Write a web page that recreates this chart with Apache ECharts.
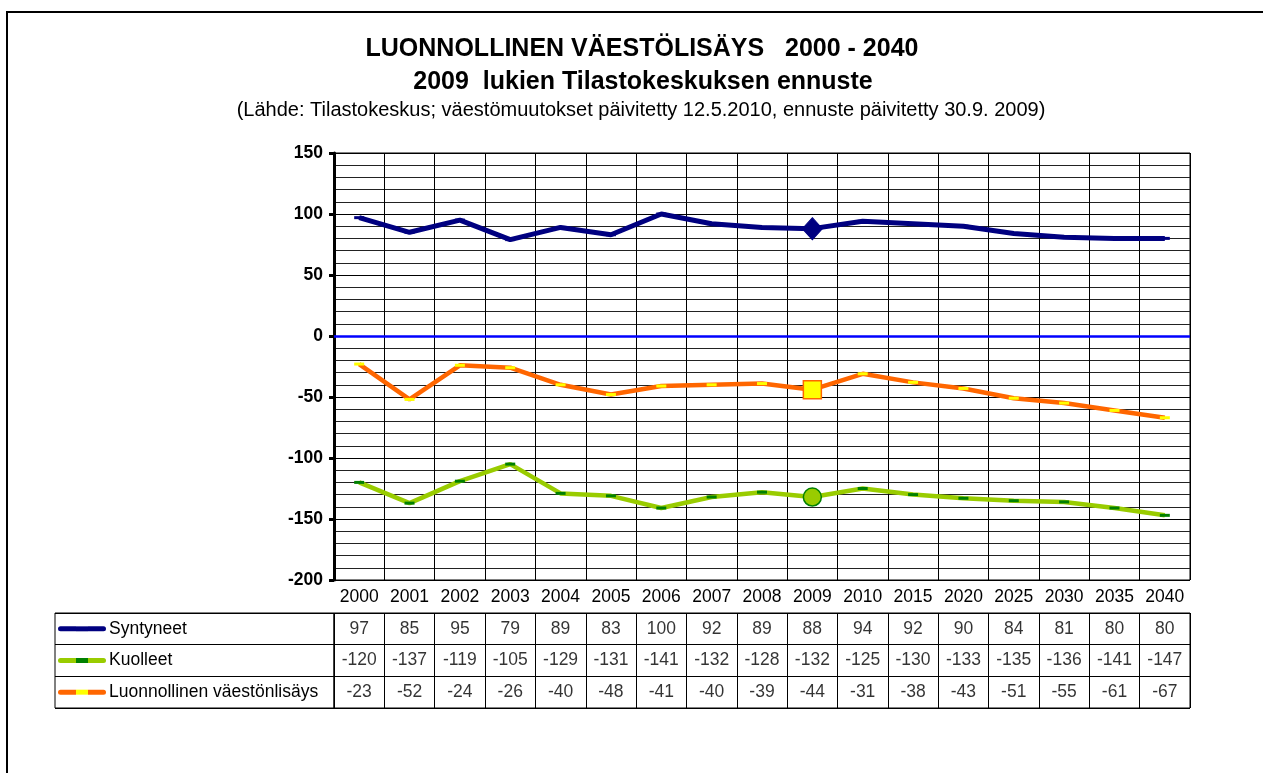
<!DOCTYPE html>
<html>
<head>
<meta charset="utf-8">
<title>Luonnollinen väestölisäys 2000 - 2040</title>
<script src="https://cdn.jsdelivr.net/npm/echarts@6/dist/echarts.min.js"></script>
<style>
  html, body { margin: 0; padding: 0; background: #fff; }
  #main { width: 1263px; height: 773px; }
</style>
</head>
<body>
<div id="main"></div>
<script>
// vuodet ja sarjat
var years = ['2000', '2001', '2002', '2003', '2004', '2005', '2006', '2007', '2008',
             '2009', '2010', '2015', '2020', '2025', '2030', '2035', '2040'];
var syntyneet = [97, 85, 95, 79, 89, 83, 100, 92, 89, 88, 94, 92, 90, 84, 81, 80, 80];
var kuolleet = [-120, -137, -119, -105, -129, -131, -141, -132, -128, -132, -125, -130, -133, -135, -136, -141, -147];
var lisays = [-23, -52, -24, -26, -40, -48, -41, -40, -39, -44, -31, -38, -43, -51, -55, -61, -67];
var names = ['Syntyneet', 'Kuolleet', 'Luonnollinen väestönlisäys'];
var yTicks = [-200, -150, -100, -50, 0, 50, 100, 150];

var FONT = '"Liberation Sans", Arial, sans-serif';
var ennusteVuosi = years.indexOf('2009');

// värit: viiva, merkki
var lineColors = ['#000080', '#99CC00', '#FF6600'];
var dashColors = ['#000080', '#008000', '#FFFF00'];

function pisteet(values, special) {
    return values.map(function (v, i) {
        if (i === ennusteVuosi) {
            return { value: v, symbol: special.symbol, symbolSize: special.size, itemStyle: special.style };
        }
        return v;
    });
}

// taulukon solut
var cells = [];
[syntyneet, kuolleet, lisays].forEach(function (arr, r) {
    arr.forEach(function (v, i) {
        cells.push([years[i], names[r], v]);
    });
});

// selitteen viivat rich-tekstinä
var rich = { n: { fontFamily: FONT, fontSize: 17.5, color: '#000', padding: [0, 0, 0, 3], verticalAlign: 'middle' } };
lineColors.forEach(function (c, k) {
    rich['l' + k] = { width: 18, height: 5, lineHeight: 5, backgroundColor: c, borderRadius: [3, 0, 0, 3], verticalAlign: 'middle', fontSize: 1 };
    rich['m' + k] = { width: 12, height: 5, lineHeight: 5, backgroundColor: k === 0 ? c : dashColors[k], verticalAlign: 'middle', fontSize: 1 };
    rich['r' + k] = { width: 18, height: 5, lineHeight: 5, backgroundColor: c, borderRadius: [0, 3, 3, 0], verticalAlign: 'middle', fontSize: 1 };
});

var myChart = echarts.init(document.getElementById('main'));
myChart.setOption({
    backgroundColor: '#fff',
    animation: false,
    title: [
        { text: 'LUONNOLLINEN VÄESTÖLISÄYS   2000 - 2040', left: 642, textAlign: 'center', top: 37, padding: 0,
          textStyle: { fontFamily: FONT, fontSize: 25, fontWeight: 'bold', color: '#000' } },
        { text: '2009  lukien Tilastokeskuksen ennuste', left: 643, textAlign: 'center', top: 70, padding: 0,
          textStyle: { fontFamily: FONT, fontSize: 25, fontWeight: 'bold', color: '#000' } },
        { text: '(Lähde: Tilastokeskus; väestömuutokset päivitetty 12.5.2010, ennuste päivitetty 30.9. 2009)', left: 641, textAlign: 'center', top: 100, padding: 0,
          textStyle: { fontFamily: FONT, fontSize: 20, fontWeight: 'normal', color: '#000' } }
    ],
    graphic: [
        { type: 'rect', shape: { x: 7, y: 12, width: 1300, height: 800 }, style: { fill: 'none', stroke: '#000', lineWidth: 2 }, silent: true, z: -1 }
    ],
    grid: [
        { left: 334, top: 153, width: 856, height: 427, show: true, borderColor: '#000', borderWidth: 1 },
        { left: 55, top: 613, width: 279, height: 95, show: true, borderColor: '#000', borderWidth: 1 },
        { left: 334, top: 613, width: 856, height: 95, show: true, borderColor: '#000', borderWidth: 1 }
    ],
    xAxis: [
        {
            gridIndex: 0, type: 'category', data: years, boundaryGap: true,
            axisLine: { show: true, lineStyle: { color: '#000', width: 1 } },
            axisTick: { show: true, interval: 0, length: 33, lineStyle: { color: '#000', width: 1 } },
            axisLabel: { interval: 0, margin: 8, fontFamily: FONT, fontSize: 17.5, color: '#000' },
            splitLine: { show: true, interval: 0, lineStyle: { color: '#000', width: 1 } }
        },
        { gridIndex: 1, type: 'value', show: false },
        {
            gridIndex: 2, type: 'category', data: years, boundaryGap: true,
            axisLine: { show: false }, axisTick: { show: false }, axisLabel: { show: false },
            splitLine: { show: true, interval: 0, lineStyle: { color: '#000', width: 1 } }
        }
    ],
    yAxis: [
        {
            gridIndex: 0, type: 'value', min: yTicks[0], max: yTicks[yTicks.length - 1], interval: 50,
            axisLine: { show: true, lineStyle: { color: '#000', width: 3 } },
            axisTick: { show: true, length: 5, lineStyle: { color: '#000', width: 3 } },
            axisLabel: { margin: 11, fontFamily: FONT, fontSize: 17.5, fontWeight: 'bold', color: '#000' },
            splitLine: { show: true, lineStyle: { color: '#000', width: 1 } },
            minorTick: { show: false, splitNumber: 5 },
            minorSplitLine: { show: true, lineStyle: { color: '#222', width: 1 } }
        },
        {
            gridIndex: 1, type: 'category', data: names, inverse: true,
            axisLine: { show: false }, axisTick: { show: false },
            axisLabel: {
                inside: true, margin: 3, align: 'left', interval: 0,
                formatter: function (value, index) {
                    return '{l' + index + '| }{m' + index + '| }{r' + index + '| }{n|' + value + '}';
                },
                rich: rich
            },
            splitLine: { show: true, interval: 0, lineStyle: { color: '#000', width: 1 } }
        },
        {
            gridIndex: 2, type: 'category', data: names, inverse: true,
            axisLine: { show: false }, axisTick: { show: false }, axisLabel: { show: false },
            splitLine: { show: true, interval: 0, lineStyle: { color: '#000', width: 1 } }
        }
    ],
    series: [
        {
            name: names[0], type: 'line', xAxisIndex: 0, yAxisIndex: 0,
            data: pisteet(syntyneet, { symbol: 'diamond', size: [20, 22], style: { color: '#000080', borderColor: '#000080', borderWidth: 1 } }),
            symbol: 'rect', symbolSize: [10, 3], showAllSymbol: true,
            itemStyle: { color: dashColors[0] },
            lineStyle: { color: lineColors[0], width: 5 },
            markLine: {
                silent: true, symbol: 'none', label: { show: false },
                lineStyle: { color: '#0000FF', width: 2.5, type: 'solid' },
                data: [{ yAxis: 0 }]
            },
            z: 4
        },
        {
            name: names[1], type: 'line', xAxisIndex: 0, yAxisIndex: 0,
            data: pisteet(kuolleet, { symbol: 'circle', size: 18, style: { color: '#99CC00', borderColor: '#008000', borderWidth: 1.5 } }),
            symbol: 'rect', symbolSize: [10, 3], showAllSymbol: true,
            itemStyle: { color: dashColors[1] },
            lineStyle: { color: lineColors[1], width: 4.5 },
            z: 4
        },
        {
            name: names[2], type: 'line', xAxisIndex: 0, yAxisIndex: 0,
            data: pisteet(lisays, { symbol: 'rect', size: 18, style: { color: '#FFFF00', borderColor: '#FF6600', borderWidth: 1.5 } }),
            symbol: 'rect', symbolSize: [10, 3], showAllSymbol: true,
            itemStyle: { color: dashColors[2] },
            lineStyle: { color: lineColors[2], width: 4.5 },
            z: 4
        },
        {
            name: 'taulukko', type: 'scatter', xAxisIndex: 2, yAxisIndex: 2,
            data: cells, symbolSize: 0, silent: true,
            label: {
                show: true, position: 'inside', fontFamily: FONT, fontSize: 17.5, color: '#000',
                formatter: function (p) { return String(p.value[2]); }
            }
        }
    ]
});
</script>
</body>
</html>
